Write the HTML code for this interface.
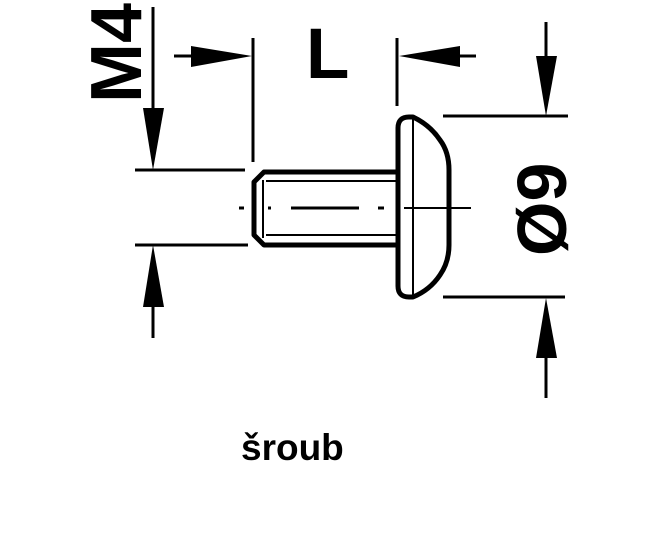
<!DOCTYPE html>
<html><head><meta charset="utf-8"><style>
html,body{margin:0;padding:0;background:#fff;}
svg{display:block;}
text{font-family:"Liberation Sans",sans-serif;font-weight:bold;fill:#000;}
</style></head><body>
<svg width="660" height="550" viewBox="0 0 660 550" xmlns="http://www.w3.org/2000/svg">
<rect width="660" height="550" fill="#fff"/>
<!-- M4 -->
<text transform="translate(141,103) rotate(-90)" font-size="72">M4</text>
<!-- left vertical dimension -->
<line x1="153" y1="7" x2="153" y2="120" stroke="#000" stroke-width="3"/>
<polygon points="143,108 164,108 153,170" fill="#000"/>
<line x1="135" y1="170" x2="245" y2="170" stroke="#000" stroke-width="3"/>
<line x1="135" y1="245" x2="248" y2="245" stroke="#000" stroke-width="3"/>
<polygon points="143,307 164,307 153,245" fill="#000"/>
<line x1="153" y1="300" x2="153" y2="338" stroke="#000" stroke-width="3"/>
<!-- L dimension -->
<text x="306" y="78" font-size="71">L</text>
<line x1="174" y1="56" x2="210" y2="56" stroke="#000" stroke-width="3"/>
<polygon points="191,46 191,67 252,56" fill="#000"/>
<line x1="253" y1="38" x2="253" y2="162" stroke="#000" stroke-width="3"/>
<line x1="397" y1="38" x2="397" y2="106" stroke="#000" stroke-width="3"/>
<polygon points="460,46 460,67 399,56" fill="#000"/>
<line x1="450" y1="56" x2="476" y2="56" stroke="#000" stroke-width="3"/>
<!-- shank -->
<path d="M397,172 L264,172 L254,182 L254,235 L264,245 L397,245" fill="none" stroke="#000" stroke-width="5" stroke-linejoin="round"/>
<line x1="266" y1="181" x2="397" y2="181" stroke="#000" stroke-width="2"/>
<line x1="266" y1="235" x2="397" y2="235" stroke="#000" stroke-width="2"/>
<line x1="263" y1="180" x2="263" y2="238" stroke="#000" stroke-width="2"/>
<!-- centerline -->
<g stroke="#000" stroke-width="3">
<line x1="239" y1="208" x2="244" y2="208"/>
<line x1="268" y1="208" x2="271" y2="208"/>
<line x1="291" y1="208" x2="359" y2="208"/>
<line x1="378" y1="208" x2="384" y2="208"/>
<line x1="404" y1="208" x2="471" y2="208" stroke-width="2"/>
</g>
<!-- head -->
<path d="M409,117 L413,117 Q430,125 440,140 Q449,152 449,170 L449,245 Q449,262 440,275 Q430,290 413,297 L409,297 Q398,297 398,286 L398,128 Q398,117 409,117 Z" fill="none" stroke="#000" stroke-width="5" stroke-linejoin="round"/>
<line x1="413" y1="118" x2="413" y2="296" stroke="#000" stroke-width="2"/>
<!-- right dimension -->
<line x1="443" y1="116" x2="568" y2="116" stroke="#000" stroke-width="3"/>
<line x1="443" y1="297" x2="565" y2="297" stroke="#000" stroke-width="3"/>
<line x1="546" y1="22" x2="546" y2="70" stroke="#000" stroke-width="3"/>
<polygon points="536,56 557,56 546,116" fill="#000"/>
<polygon points="536,358 557,358 546,298" fill="#000"/>
<line x1="546" y1="350" x2="546" y2="398" stroke="#000" stroke-width="3"/>
<text transform="translate(566,256) rotate(-90)" font-size="70">Ø9</text>
<!-- label -->
<text x="241" y="460" font-size="37">šroub</text>
</svg>
</body></html>
